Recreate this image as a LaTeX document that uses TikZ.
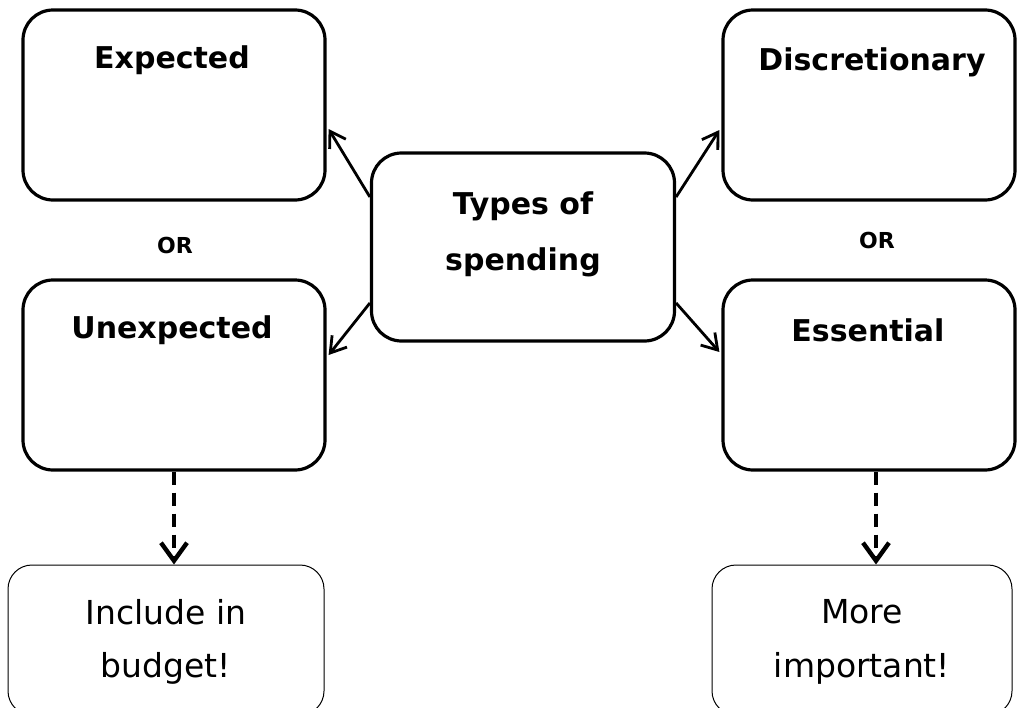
\documentclass[tikz,border=0pt]{standalone}
\usepackage{fontspec}
\setmainfont{DejaVu Sans}
\usetikzlibrary{arrows.meta}
\begin{document}
\begin{tikzpicture}[x=1pt,y=-1pt,
  bigbox/.style={draw=black, line width=3.2pt, rounded corners=30pt, fill=white, inner sep=0pt},
  smallbox/.style={draw=black, line width=1pt, rounded corners=24pt, fill=white, inner sep=0pt},
  title/.style={font=\bfseries\fontsize{30}{34}\selectfont, inner sep=0pt},
  ortext/.style={font=\bfseries\fontsize{22}{24}\selectfont, inner sep=0pt},
  plain/.style={font=\fontsize{33}{38}\selectfont, inner sep=0pt},
  conn/.style={line width=2.8pt, -{Straight Barb[length=15pt,width=19pt,line width=2.8pt]}},
  dconn/.style={line width=4.4pt, dash pattern=on 13pt off 8pt, -{Straight Barb[length=18pt,width=26pt,line width=4.4pt]}}
]
\useasboundingbox (0,0) rectangle (1017,707);
\node[bigbox, minimum width=302pt, minimum height=190pt] (e) at (174,105) {};
\node[bigbox, minimum width=302pt, minimum height=190pt] (u) at (174,375) {};
\node[bigbox, minimum width=292pt, minimum height=190pt] (d) at (869,105) {};
\node[bigbox, minimum width=292pt, minimum height=190pt] (s) at (869,375) {};
\node[bigbox, minimum width=303pt, minimum height=188pt] (c) at (523,247) {};
\node[smallbox, minimum width=316pt, minimum height=150pt] (i) at (166,640) {};
\node[smallbox, minimum width=300pt, minimum height=150pt] (m) at (862,640) {};

\node[title] (te) at (172,60) {Expected};
\node[title] (tu) at (172,330) {Unexpected};
\node[title] (td) at (872,62) {Discretionary};
\node[title] (ts) at (868,330) {Essential};
\node[title] (tc1) at (523,206) {Types of};
\node[title] (tc2) at (523,262) {spending};
\node[ortext] (or1) at (175,245) {OR};
\node[ortext] (or2) at (877,240) {OR};
\node[plain] (ti1) at (166,612) {Include in};
\node[plain] (ti2) at (166,668) {budget!};
\node[plain] (tm1) at (862,612) {More};
\node[plain] (tm2) at (862,668) {important!};

\draw[conn] ([yshift=50pt]c.west) -- ([xshift=2pt,yshift=-24pt]e.east);
\draw[conn] ([yshift=-56pt]c.west) -- ([xshift=2pt,yshift=20pt]u.east);
\draw[conn] ([yshift=50pt]c.east) -- ([xshift=-2pt,yshift=-25pt]d.west);
\draw[conn] ([yshift=-56pt]c.east) -- ([xshift=-2pt,yshift=23pt]s.west);
\draw[dconn] (u.south) -- (u.south |- i.north);
\draw[dconn] ([xshift=7pt]s.south) -- ([xshift=7pt]s.south |- m.north);
\end{tikzpicture}
\end{document}
